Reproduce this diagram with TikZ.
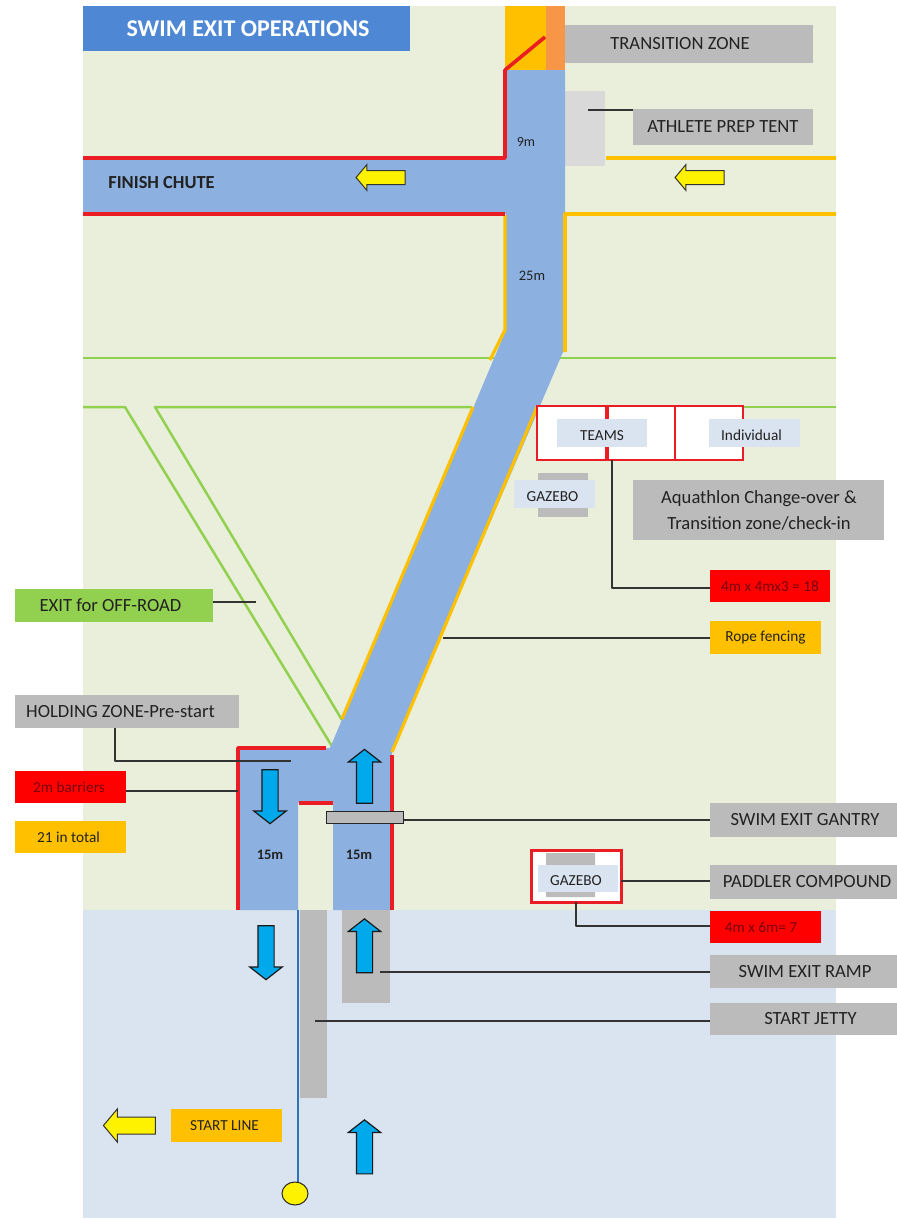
\documentclass[tikz,border=0pt]{standalone}
\usepackage{fontspec}
\setmainfont{Carlito}
\usetikzlibrary{shapes.arrows,calc}
\definecolor{bgreen}{HTML}{E9EFDA}
\definecolor{water}{HTML}{DAE3F0}
\definecolor{course}{HTML}{8CB0E0}
\definecolor{fred}{HTML}{EA1C24}
\definecolor{gold}{HTML}{FFC000}
\definecolor{orng}{HTML}{F79646}
\definecolor{lgray}{HTML}{BBBBBB}
\definecolor{pale}{HTML}{D9D9D9}
\definecolor{lblue}{HTML}{DAE3F0}
\definecolor{cyanb}{HTML}{00A9EC}
\definecolor{titleb}{HTML}{4E88D4}
\definecolor{grn}{HTML}{92D050}
\definecolor{txt}{HTML}{222222}
\definecolor{dred}{HTML}{780010}
\definecolor{startblue}{HTML}{2E75B6}
\tikzset{
 bx/.style={inner sep=0pt,outer sep=0pt,text=txt,align=center,font=\fontsize{18.6}{26}\selectfont},
 small/.style={font=\fontsize{15.3}{18}\selectfont},
 lowtext/.style={text height=14.7pt,text depth=0pt},
 redbox/.style={fill=red,text=dred,small},
 redl/.style={draw=fred,line width=3.6pt,line join=round},
 goldl/.style={draw=gold,line width=3.2pt,line join=round},
 grnl/.style={draw=grn,line width=2.5pt,line join=round},
 conn/.style={draw=black!80,line width=1.1pt,line join=round},
 uparr/.style={single arrow,draw=black!90,fill=cyanb,line width=1.2pt,inner sep=7.5pt,outer sep=0pt,
   single arrow head extend=8pt,single arrow head indent=0pt,single arrow tip angle=104,minimum width=31pt,minimum height=54pt,shape border rotate=90},
 dnarr/.style={uparr,shape border rotate=270},
 yarr/.style={single arrow,draw=black!80,fill=yellow,line width=1pt,inner sep=6.5pt,outer sep=0pt,shape border rotate=180,
   single arrow head extend=6pt,single arrow head indent=0pt,single arrow tip angle=100,minimum width=25pt,minimum height=49pt},
}
\newcommand{\bxn}[7]{%
 \pgfmathsetmacro{\bwd}{#5-#3}\pgfmathsetmacro{\bht}{#6-#4}%
 \pgfmathsetmacro{\bcx}{(#5+#3)/2}\pgfmathsetmacro{\bcy}{(#6+#4)/2}%
 \node[bx,#2,minimum width=\bwd pt,minimum height=\bht pt] (#1) at (\bcx,\bcy) {#7};}
\begin{document}
\begin{tikzpicture}[x=1pt,y=-1pt]
\useasboundingbox (0,0) rectangle (897,1219);
\fill[white] (0,0) rectangle (897,1219);
\fill[bgreen] (83,6) rectangle (836,910);
\fill[water] (83,910) rectangle (836,1218);
% fences behind
\path[grnl] (83,358) -- (502,358) (560,358) -- (836,358);
\path[grnl] (83,407) -- (125,407) -- (333,748);
\path[grnl] (472,407) -- (155,407) -- (342,720);
\path[grnl] (743,407) -- (836,407);
% transition
\fill[gold] (505,6) rectangle (546,70);
\fill[orng] (546,6) rectangle (565,70);
\fill[pale] (565,91) rectangle (605,166);
% course
\fill[course] (506,70) -- (565,70) -- (565,352) -- (563,352) -- (392,752) -- (392,910) -- (333,910) -- (333,803)
  -- (298,803) -- (298,910) -- (238,910) -- (238,748) -- (330,748) -- (506,330) -- (506,214) -- (83,214) -- (83,158) -- (506,158) -- cycle;
% orange rope
\path[goldl] (606,158) -- (836,158);
\path[goldl] (836,214) -- (565,214) -- (565,352);
\path[goldl] (505,215) -- (505,330) -- (490,360);
\path[goldl] (342,719) -- (473,407);
\path[goldl] (537,407) -- (392,752);
% red barriers
\path[redl] (83,158) -- (505,158) -- (505,70) -- (545,37);
\path[redl] (83,214) -- (505,214);
\path[redl] (238,910) -- (238,748) -- (326,748);
\path[redl] (299,803) -- (333,803);
\path[redl] (392,755) -- (392,910);
% water features
\fill[lgray] (300,910) rectangle (327,1098);
\fill[lgray] (342,910) rectangle (390,1003);
\draw[draw=startblue,line width=2pt] (298,910) -- (298,1182);
\draw[draw=black!85,fill=yellow,line width=1pt] (295,1193.5) ellipse [x radius=13, y radius=11.5];
\coordinate (buoy) at (295,1193.5);
% title
\bxn{title}{fill=titleb,text=white,font=\fontsize{24}{28}\selectfont\bfseries}{83}{6}{410}{51}{\hspace*{3pt}SWIM EXIT OPERATIONS}
% teams area
\draw[fred,line width=2.6pt,fill=white] (537,406) rectangle (743,460);
\draw[fred,line width=2.2pt] (675,406) -- (675,460);
\draw[fred,line width=4pt] (607,406) -- (607,460);
\bxn{teams}{fill=lblue,small,lowtext}{557}{419}{647}{447}{TEAMS}
\bxn{indiv}{fill=lblue,small,lowtext}{709}{419}{800}{447}{\hspace*{-6pt}Individual}
\fill[lgray] (538,473) rectangle (588,517);
\bxn{gaz}{fill=lblue,small,lowtext}{514}{480}{595}{508}{\hspace*{-4pt}GAZEBO}
% compound
\draw[fred,line width=3pt,fill=white] (531,850) rectangle (621,902);
\fill[lgray] (546,853) rectangle (595,865) (546,892) rectangle (595,897);
\bxn{gazb}{fill=lblue,small,lowtext}{538}{865}{618}{892}{\hspace*{-4pt}GAZEBO}
\coordinate (compound) at (621,881);
\coordinate (compoundb) at (576,902);
% labels
\bxn{trans}{fill=lgray}{565}{25}{813}{63}{\hspace*{-18pt}TRANSITION ZONE}
\bxn{tent}{fill=lgray}{633}{109}{813}{145}{ATHLETE PREP TENT}
\bxn{aqua}{fill=lgray}{633}{480}{884}{540}{\hspace*{1pt}Aquathlon Change-over \&\\\hspace*{1pt}Transition zone/check-in}
\bxn{m18}{redbox}{710}{570}{830}{602}{4m x 4mx3 = 18}
\bxn{rope}{fill=gold,small}{710}{621}{821}{654}{Rope fencing}
\bxn{exit}{fill=grn}{15}{589}{213}{622}{\hspace*{-7pt}EXIT for OFF-ROAD}
\bxn{hold}{fill=lgray}{15}{695}{239}{728}{\hspace*{-13pt}HOLDING ZONE-Pre-start}
\bxn{barr}{redbox}{15}{771}{126}{803}{\hspace*{-3pt}2m barriers}
\bxn{tot}{fill=gold,small}{15}{821}{126}{853}{\hspace*{-4pt}21 in total}
\bxn{gant}{fill=lgray}{710}{803}{897}{837}{\hspace*{3pt}SWIM EXIT GANTRY}
\bxn{padd}{fill=lgray}{710}{865}{897}{899}{\hspace*{7pt}PADDLER COMPOUND}
\bxn{m7}{redbox}{710}{911}{821}{943}{\hspace*{-9pt}4m x 6m= 7}
\bxn{ramp}{fill=lgray}{710}{955}{897}{988}{\hspace*{3pt}SWIM EXIT RAMP}
\bxn{jetty}{fill=lgray}{710}{1003}{897}{1035}{\hspace*{14pt}START JETTY}
\bxn{sline}{fill=gold,small}{171}{1109}{282}{1142}{\hspace*{-4pt}START LINE}
% plain text
\node[bx,font=\fontsize{18.4}{22}\selectfont\bfseries] (chute) at (161.5,183) {FINISH CHUTE};
\node[bx,font=\fontsize{14}{16}\selectfont] (nine) at (526,142) {9m};
\node[bx,font=\fontsize{14.5}{16}\selectfont] (twentyfive) at (532,276) {25m};
\node[bx,font=\fontsize{14.5}{16}\selectfont\bfseries] (l15) at (270,855) {15m};
\node[bx,font=\fontsize{14.5}{16}\selectfont\bfseries] (r15) at (359,855) {15m};
% arrows
\node[uparr] (a1) at (364.5,779.5) {};
\node[dnarr] (a2) at (270,793.5) {};
\node[dnarr] (a3) at (266,949.5) {};
\node[uparr] (a4) at (364.5,949) {};
\node[uparr] (a5) at (364.5,1150) {};
\node[yarr] (y1) at (383.5,177.5) {};
\node[yarr] (y2) at (702.5,177.5) {};
\node[yarr,inner sep=8pt,single arrow head extend=8pt,minimum width=32pt,minimum height=52pt] (y3) at (133,1125.5) {};
% gantry
\node[draw=black!85,fill=lgray,line width=1.1pt,minimum width=77pt,minimum height=12.5pt,inner sep=0pt] (gantry) at (365,817.5) {};
% anchors of free ends
\coordinate (tentp) at (588,110);
\coordinate (exitp) at (256,602);
\coordinate (holdq) at (115,761);
\coordinate (holdp) at (291,761);
\coordinate (barrp) at (238,791);
\coordinate (ropep) at (443,638);
\coordinate (rampp) at (380,972);
\coordinate (jettyp) at (315,1021);
\coordinate (teamp) at (612,460);
\coordinate (m18p) at (710,588);
\coordinate (gantp) at (404,820);
\coordinate (m7p) at (710,926);
% connectors
\draw[conn] (tentp) -- (tentp -| tent.west);
\draw[conn] (exitp -| exit.east) -- (exitp);
\draw[conn] (holdq |- hold.south) -- (holdq) -- (holdp);
\draw[conn] (barrp -| barr.east) -- (barrp);
\draw[conn] (teamp) -- (teamp |- m18p) -- (m18p);
\draw[conn] (ropep) -- (ropep -| rope.west);
\draw[conn] (gantp) -- (gantp -| gant.west);
\draw[conn] (compound) -- (compound -| padd.west);
\draw[conn] (compoundb) -- (compoundb |- m7p) -- (m7p);
\draw[conn] (rampp) -- (rampp -| ramp.west);
\draw[conn] (jettyp) -- (jettyp -| jetty.west);
\end{tikzpicture}
\end{document}
